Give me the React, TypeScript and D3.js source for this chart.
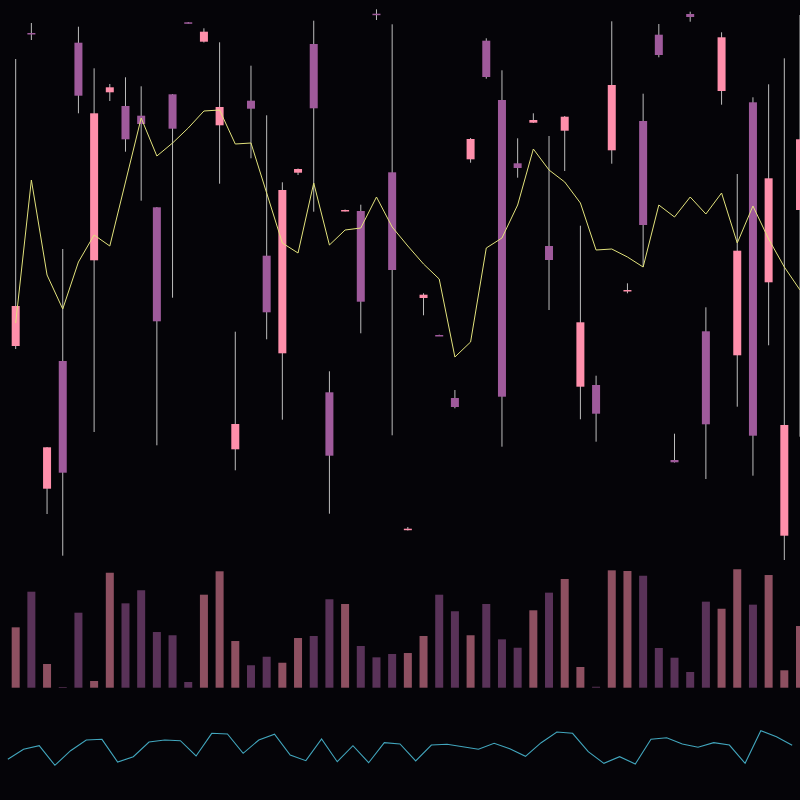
import React from "react";
import * as d3 from "d3";

const opens = [50.8,113.4,22.26,47.8,111.46,67.94,101.54,98.8,96.86,78.54,101.14,115.54,111.66,94.94,30.14,99.86,68.86,49.34,85.46,111.2,41.54,77.94,77.8,117.26,85.54,14.2,60.4,53,40.4,88.14,111.86,100,87.34,95.46,70.8,93.86,42.66,43,89.94,61.94,95.8,113.06,28,117.2,53.74,101.8,48.94,99.54,63.54,12.86,78];
const closes = [58.8,113.2,30.54,25.46,100.86,97.34,102.54,92.14,95.2,55.74,94.26,115.4,113.66,98.6,35.2,98.26,57.54,82,86.2,98.34,28.86,78,59.66,117,66,14.26,61.06,52.94,38.6,92.2,104.6,40.66,86.4,96,68,96.66,55.54,37.26,103,62,75,109,27.54,116.6,35.14,112.54,69.86,32.86,84.34,35,92.14];
const highs = [108.2,115.4,30.6,70.2,114.66,106.34,103.2,104.54,102.74,78.6,101.2,115.6,114.34,111.54,53.66,106.86,96.94,83.54,86.3,115.86,45.74,78.1,79.06,118.14,115.14,14.6,61.34,53.06,42,92.4,112.34,105.94,92.34,97.34,92.8,96.8,74.86,44.86,115.74,63.34,101.26,115.2,33.26,117.66,58.54,113.54,85.2,100.54,103.14,108.34,117];
const lows = [50.2,112,17.2,8.86,97.34,33.6,99.8,89.66,79.86,30.94,60.46,115.3,111.5,83.26,25.94,88.34,52.14,36.06,85,77.66,17.26,77.7,53.34,116,32.94,13.9,56.94,52.86,38.34,87.46,104.26,30.66,84.46,95.4,58,85.8,36.14,31.66,87.26,61.34,66.66,108.54,27.5,115.66,24.2,99.06,38.66,24.86,50.94,8,32.66];
const movingAvg = [55.4,84,65,58.2,67.6,73,70.8,83.6,96.4,88.8,91.4,94.4,97.8,98,91.2,91.4,81.4,71.4,69.4,83.4,71,74,74.4,80.6,74.6,70.8,67.2,64.2,48.6,51.6,70.4,72.4,79,90.2,86,83.6,79.4,70,70.2,68.6,66.6,79,76.6,80.6,77.2,81.4,71.4,78.8,72.2,66.6,62];
const volumes = [50.3,80,19.75,0.6,62.5,5.6,95.8,70.3,81.2,46.4,43.7,4.75,77.5,97,38.9,18.7,25.8,20.8,41.4,43.1,73.7,69.75,34.75,25.3,28.1,28.9,43.1,77.5,63.7,43.7,69.75,40.3,33.3,64.5,79.2,90.6,17.25,0.8,97.8,97.25,93.3,33.1,25,13.1,71.7,65.8,98.7,69.2,93.9,14.5,51.4];
const oscillator = [34.5,51.2,57.2,24.5,48.8,66.7,67.8,30,38.8,63.3,66.7,65.5,40,77.8,76.7,44.5,66.7,76.2,41.7,32.2,68.3,30.5,57.2,28.8,62.2,60,31.7,58.3,59.5,55.5,51.2,61.2,52.2,39.5,62.2,80,77.8,47.2,27.8,38.8,26.7,67.8,70.5,60,54.5,62.2,58.3,27.8,82.2,72.2,57.8];

const W = 800;
const H = 800;
const UP = "#ff8fab";
const DOWN = "#9f5a9b";

export default function App() {
  const n = opens.length;
  const x = d3.scaleLinear().domain([-1, n - 1]).range([0, W]);
  const y = d3.scaleLinear().domain([0, 120]).range([600, 0]);
  const yVol = d3.scaleLinear().domain([0, 100]).range([687.7, 567.7]);
  const yOsc = d3.scaleLinear().domain([0, 100]).range([780, 720]);
  const bodyW = 8;

  const maLine = d3
    .line<number>()
    .x((_, i) => x(i))
    .y((d) => y(d))(movingAvg) as string;
  const oscLine = d3
    .line<number>()
    .x((_, i) => x(i - 0.5))
    .y((d) => yOsc(d))(oscillator) as string;

  return (
    <svg
      width={W}
      height={H}
      style={{ position: "fixed", left: 0, top: 0, background: "#050408", display: "block" }}
    >
      <rect x={0} y={0} width={W} height={H} fill="#050408" />
      <g>
        {volumes.map((v, i) => {
          const up = closes[i] >= opens[i];
          return (
            <rect
              key={"v" + i}
              x={x(i) - bodyW / 2}
              width={bodyW}
              y={yVol(v)}
              height={yVol(0) - yVol(v)}
              fill={up ? UP : DOWN}
              opacity={0.55}
            />
          );
        })}
      </g>
      <g>
        {opens.map((o, i) => {
          const c = closes[i];
          const up = c >= o;
          const cx = x(i);
          const top = y(Math.max(o, c));
          const bot = y(Math.min(o, c));
          return (
            <g key={"c" + i}>
              <line
                x1={cx}
                x2={cx}
                y1={y(highs[i])}
                y2={y(lows[i])}
                stroke="#bdbdbd"
                strokeWidth={1}
              />
              <rect
                x={cx - bodyW / 2}
                width={bodyW}
                y={top}
                height={Math.max(1.5, bot - top)}
                fill={up ? UP : DOWN}
              />
            </g>
          );
        })}
      </g>
      <path d={maLine} fill="none" stroke="#e2e27c" strokeWidth={1} />
      <path d={oscLine} fill="none" stroke="#42a6bd" strokeWidth={1.1} />
    </svg>
  );
}
